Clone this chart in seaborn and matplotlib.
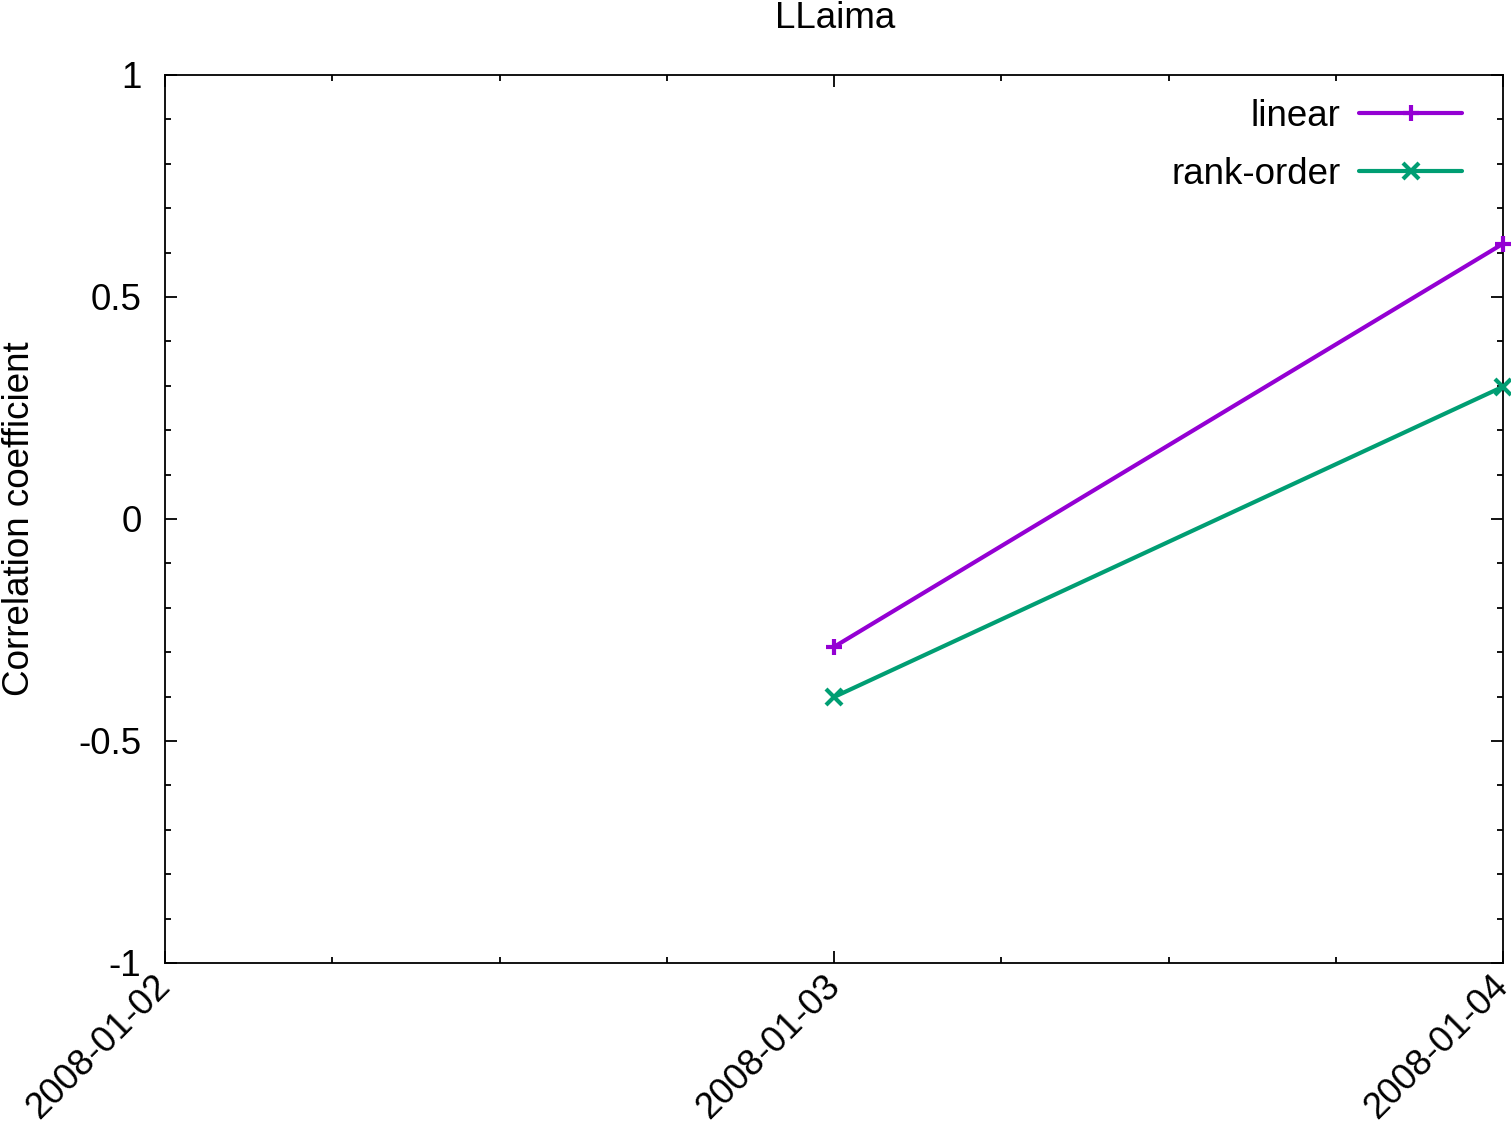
import pandas as pd
import matplotlib
matplotlib.use("Agg")
import matplotlib.pyplot as plt
import matplotlib.dates as mdates
import matplotlib.transforms as mtransforms
import seaborn as sns

# datos
fechas = ["2008-01-03", "2008-01-04"]
lineal = [-0.288, 0.620]
rango = [-0.401, 0.298]
etiquetas = ["linear", "rank-order"]
colores = ["#9400D3", "#009E73"]
marcadores = ["+", "x"]

sns.set_theme(style="ticks")
plt.rcParams["font.family"] = ["Liberation Sans", "DejaVu Sans"]
plt.rcParams["axes.linewidth"] = 1.3
plt.rcParams["text.color"] = "black"

fig = plt.figure(figsize=(15.11, 11.27), dpi=100)
ax = fig.add_axes([165 / 1511, 164 / 1127, 1338 / 1511, 888 / 1127])

x = pd.to_datetime(fechas)
for vals, lab, col, mk in zip([lineal, rango], etiquetas, colores, marcadores):
    sns.lineplot(x=x, y=vals, ax=ax, color=col, label=lab, marker=mk,
                 markersize=11, markeredgewidth=3, markeredgecolor=col,
                 linewidth=3, clip_on=False, zorder=3)

ax.set_xlim(pd.Timestamp("2008-01-02"), pd.Timestamp("2008-01-04"))
ax.set_ylim(-1, 1)
ax.xaxis.set_major_locator(mdates.DayLocator())
ax.xaxis.set_major_formatter(mdates.DateFormatter("%Y-%m-%d"))
ax.xaxis.set_minor_locator(mdates.HourLocator(byhour=[6, 12, 18]))
ax.set_yticks([-1, -0.5, 0, 0.5, 1])
ax.set_yticklabels(["-1", "-0.5", "0", "0.5", "1"])
ax.set_yticks([i / 10 for i in range(-10, 11)], minor=True)

ax.tick_params(which="both", direction="in", top=True, right=True,
               color="black", width=1.3, labelsize=26.5, labelcolor="black")
ax.tick_params(which="major", length=8.6)
ax.tick_params(axis="y", which="major", pad=17)
ax.tick_params(axis="x", which="major", pad=2)
ax.tick_params(which="minor", length=4.3)
desplaza = mtransforms.ScaledTranslation(-12 / 100, -3 / 100, fig.dpi_scale_trans)
for lbl in ax.get_xticklabels():
    lbl.set_rotation(45)
    lbl.set_ha("right")
    lbl.set_rotation_mode("anchor")
    lbl.set_transform(lbl.get_transform() + desplaza)

for s in ax.spines.values():
    s.set_color("black")

ax.set_xlabel("")
ax.set_ylabel("Correlation coefficient", fontsize=26.5, color="black", labelpad=30)
fig.text(835 / 1511, 1 - 19 / 1127, "LLaima", ha="center", va="center",
         fontsize=26.5, color="black")

leg = ax.legend(loc="upper right", bbox_to_anchor=(1 - 17 / 1338, 1),
                frameon=False, markerfirst=False,
                fontsize=26.5, handlelength=2.8, labelspacing=0.62,
                borderaxespad=0.35, handletextpad=0.5, borderpad=0.3)
for t in leg.get_texts():
    t.set_color("black")

fig.savefig("out.png", dpi=100)
plt.close()
